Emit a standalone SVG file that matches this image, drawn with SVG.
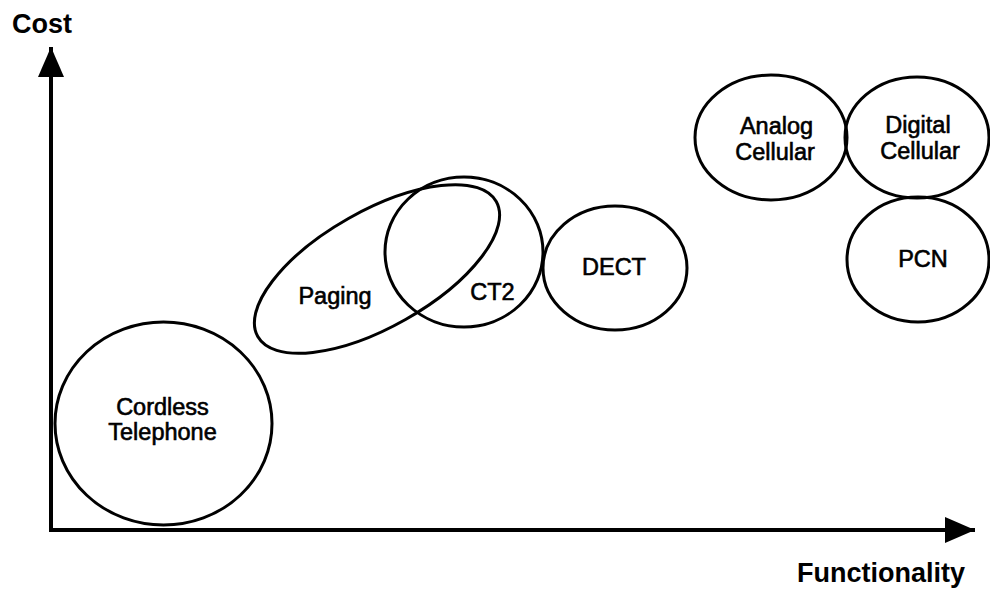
<svg xmlns="http://www.w3.org/2000/svg" width="990" height="590" viewBox="0 0 990 590">
  <style>
    .node { fill: none; stroke: #000; stroke-width: 3; }
    .lbl { font-family: "Liberation Sans", Arial, Helvetica, sans-serif; font-size: 23.5px; fill: #000; stroke: #000; stroke-width: 0.6; text-anchor: middle; }
    .axis-lbl { font-family: "Liberation Sans", Arial, Helvetica, sans-serif; font-weight: bold; font-size: 27px; fill: #000; }
    .axis { stroke: #000; stroke-width: 4; fill: none; }
  </style>
  <defs>
    <marker id="arrow" markerUnits="userSpaceOnUse" markerWidth="30" markerHeight="26" refX="30" refY="13" orient="auto">
      <path d="M0,0 L30,13 L0,26 Z" fill="#000"/>
    </marker>
  </defs>
  <rect width="990" height="590" fill="#fff"/>

  <!-- axes -->
  <g id="connectors">
    <line class="axis" x1="51" y1="530" x2="51" y2="47" marker-end="url(#arrow)"/>
    <line class="axis" x1="49" y1="530" x2="975" y2="530" marker-end="url(#arrow)"/>
  </g>
  <text class="axis-lbl" x="12" y="33">Cost</text>
  <text class="axis-lbl" x="797" y="582">Functionality</text>

  <g id="cordless">
    <ellipse class="node" cx="163.5" cy="423.5" rx="108.5" ry="101.5"/>
    <text class="lbl" x="162.5" y="415">Cordless</text>
    <text class="lbl" x="162.5" y="440">Telephone</text>
  </g>

  <g id="paging">
    <ellipse class="node" cx="377" cy="269" rx="137" ry="58" transform="rotate(-29.5 377 269)"/>
    <text class="lbl" x="335" y="304">Paging</text>
  </g>

  <g id="ct2">
    <ellipse class="node" cx="464" cy="252" rx="79" ry="75"/>
    <text class="lbl" x="492.5" y="300">CT2</text>
  </g>

  <g id="dect">
    <ellipse class="node" cx="615" cy="268" rx="72" ry="62"/>
    <text class="lbl" x="614" y="275">DECT</text>
  </g>

  <g id="analog">
    <ellipse class="node" cx="771" cy="137.5" rx="76" ry="62.5"/>
    <text class="lbl" x="776.5" y="134">Analog</text>
    <text class="lbl" x="775" y="160">Cellular</text>
  </g>

  <g id="digital">
    <ellipse class="node" cx="917" cy="137.5" rx="72" ry="60.5"/>
    <text class="lbl" x="918" y="133">Digital</text>
    <text class="lbl" x="920" y="159">Cellular</text>
  </g>

  <g id="pcn">
    <ellipse class="node" cx="918" cy="259.5" rx="71" ry="62.5"/>
    <text class="lbl" x="923" y="267">PCN</text>
  </g>
</svg>
